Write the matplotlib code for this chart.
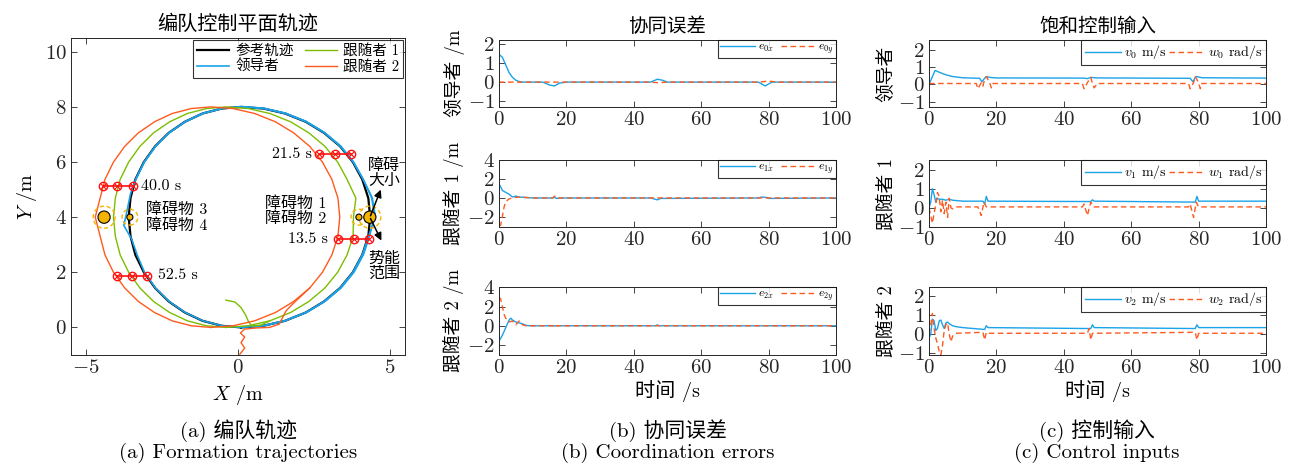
import matplotlib
matplotlib.use("Agg")
import matplotlib.pyplot as plt
from matplotlib.patches import Ellipse
import numpy as np

plt.rcParams['font.family'] = ['cmr10', 'Noto Sans CJK SC']
plt.rcParams['mathtext.fontset'] = 'cm'
plt.rcParams['axes.formatter.use_mathtext'] = True
plt.rcParams['axes.unicode_minus'] = True

# ---------------- (a) trajectories ----------------
ref_x = [0.10, 0.84, 1.55, 2.23, 2.83, 3.36, 3.78, 4.09, 4.29, 4.35, 4.29, 4.09, 3.78,
         3.36, 2.83, 2.23, 1.55, 0.84, 0.10, -0.54, -1.17, -1.75, -2.28, -2.73, -3.10,
         -3.38, -3.54, -3.60, -3.54, -3.38, -3.10, -2.73, -2.28, -1.75, -1.17, -0.54, 0.10]
ref_y = [0.00, 0.06, 0.24, 0.54, 0.94, 1.43, 2.00, 2.63, 3.31, 4.00, 4.69, 5.37, 6.00,
         6.57, 7.06, 7.46, 7.76, 7.94, 8.00, 7.94, 7.76, 7.46, 7.06, 6.57, 6.00,
         5.37, 4.69, 4.00, 3.31, 2.63, 2.00, 1.43, 0.94, 0.54, 0.24, 0.06, 0.00]

lead_x = [0.10, 0.84, 1.55, 2.23, 2.83, 3.36, 3.78, 4.09, 4.30, 4.52, 4.42, 4.12, 3.79,
          3.37, 2.84, 2.24, 1.56, 0.85, 0.12, -0.53, -1.16, -1.74, -2.27, -2.72, -3.09,
          -3.37, -3.54, -3.66, -3.76, -3.50, -3.32, -3.08, -2.72, -2.27, -1.74, -1.16, -0.53, 0.10]
lead_y = [0.00, 0.06, 0.24, 0.54, 0.94, 1.43, 2.00, 2.63, 3.31, 4.02, 4.70, 5.37, 6.00,
          6.57, 7.06, 7.46, 7.76, 7.94, 8.00, 7.94, 7.76, 7.46, 7.06, 6.57, 6.00,
          5.37, 4.85, 4.20, 3.70, 3.20, 2.63, 2.00, 1.43, 0.94, 0.54, 0.24, 0.06, 0.00]
lead2_x = [0.12, 0.86, 1.57, 2.26, 2.87, 3.40, 3.82, 4.13, 4.33, 4.50, 4.40, 4.12, 3.80,
           3.38, 2.85, 2.25, 1.57, 0.86, 0.12, -0.52, -1.15, -1.73, -2.26, -2.71, -3.08, -3.36]
lead2_y = [0.02, 0.07, 0.25, 0.55, 0.95, 1.44, 2.01, 2.64, 3.32, 4.05, 4.70, 5.38, 6.01,
           6.58, 7.07, 7.47, 7.77, 7.95, 8.01, 7.95, 7.77, 7.47, 7.07, 6.58, 6.01, 5.38]

f1_init_x = [-0.40, -0.10, 0.10, 0.25, 0.35, 0.45, 0.75, 1.05]
f1_init_y = [0.99, 0.92, 0.72, 0.45, 0.20, 0.05, 0.08, 0.24]
f1_x = [-0.40, 0.34, 1.05, 1.73, 2.33, 2.86, 3.28, 3.59, 3.79, 3.80, 3.88, 3.59, 3.28,
        2.86, 2.33, 1.73, 1.05, 0.34, -0.40, -1.04, -1.67, -2.25, -2.78, -3.23, -3.60,
        -3.88, -4.04, -4.10, -4.04, -3.88, -3.60, -3.23, -2.78, -2.25, -1.67, -1.04, -0.40]
f1_y = ref_y

f2_init_x = [0.06, 0.22, 0.10, 0.22, 0.08, 0.22, 0.60, 1.04, 1.36, 1.58, 1.80, 2.36]
f2_init_y = [-0.97, -0.75, -0.55, -0.35, -0.20, -0.06, -0.02, 0.00, 0.12, 0.60, 0.85, 1.43]
f2_x = [-0.90, -0.16, 0.55, 1.23, 1.83, 2.36, 2.78, 3.09, 3.29, 3.35, 3.29, 3.09, 2.78,
        2.36, 1.83, 1.23, 0.55, -0.16, -0.90, -1.54, -2.17, -2.75, -3.28, -3.73, -4.10,
        -4.38, -4.54, -4.70, -4.54, -4.38, -4.10, -3.73, -3.28, -2.75, -2.17, -1.54, -0.90]
f2_y = ref_y

snap_labels = ['13.5 s', '21.5 s', '40.0 s', '52.5 s']
snap_y = [3.20, 6.30, 5.13, 1.88]
snap_x = [[3.30, 3.82, 4.31], [2.67, 3.18, 3.71], [-4.44, -3.97, -3.47], [-3.99, -3.50, -2.99]]

obs_x = [4.34, 3.98, -4.41, -3.56]
obs_y = [4.0, 4.0, 4.0, 4.0]
obs_r = [0.20, 0.10, 0.20, 0.10]
obs_range = [0.36, 0.26, 0.36, 0.26]

# ---------------- (b) coordination errors ----------------
t_e0 = [0, 1, 2, 3, 4, 5, 6, 7, 13, 15, 16.5, 18, 20, 45, 47, 48.5, 50, 77, 79, 80, 81, 100]
e0x = [1.45, 1.3, 0.9, 0.5, 0.25, 0.1, 0.03, 0, 0, -0.15, -0.2, -0.05, 0, 0, 0.15, 0.1, 0, 0, -0.2, -0.1, 0, 0]
t_e0y = [0, 45, 47, 50, 77, 80, 83, 100]
e0y = [0, 0, -0.03, 0, 0, 0.05, 0, 0]

t_e1 = [0, 0.5, 1, 2, 3, 4, 5, 6, 8, 10, 16, 16.5, 17, 18, 45, 46, 47, 48, 77, 78, 79.5, 80, 100]
e1x = [1.5, 1.2, 0.8, 0.6, 0.4, 0.1, 0.2, 0.1, 0.05, 0, 0, 0.1, -0.05, 0, 0, -0.1, -0.2, -0.05, 0, 0.1, 0.05, -0.05, 0]
t_e1y = [0, 0.5, 1, 1.5, 2, 3, 4, 6, 8, 10, 16, 16.5, 17, 100]
e1y = [-3.0, -2.9, -2.0, -1.0, -0.4, -0.1, 0, 0.1, 0.05, 0, 0, 0.2, 0, 0]

t_e2 = [0, 1, 2, 3, 3.5, 4, 5, 6, 7, 8, 9, 46.5, 47, 47.5, 100]
e2x = [-1.6, -1.0, -0.2, 0.6, 0.8, 0.6, 0.4, 0.3, 0.2, 0.05, 0, 0, 0.1, 0, 0]
t_e2y = [0, 0.5, 1, 1.5, 2, 2.5, 3, 4, 5, 6, 7, 8, 16, 16.5, 17, 100]
e2y = [3.0, 2.8, 2.0, 1.2, 0.8, 0.6, 0.4, 0.5, 0.1, 0.5, 0.1, 0, 0, -0.2, 0, 0]

# ---------------- (c) saturated control inputs ----------------
t_v0 = [0, 1.8, 3, 5, 7, 10, 13, 15, 15.7, 16.5, 17, 18, 20, 46, 47, 48, 50, 77.5, 78.3, 79, 79.5, 81, 100]
v0 = [0, 0.8, 0.7, 0.55, 0.45, 0.38, 0.36, 0.35, 0.15, 0.35, 0.45, 0.4, 0.37, 0.36, 0.33, 0.4, 0.37, 0.35, 0.15, 0.4, 0.45, 0.38, 0.36]
t_w0 = [0, 14, 14.5, 15.5, 16, 16.5, 17, 18, 18.5, 19, 45.5, 46, 47, 48, 48.5, 49, 50, 77, 77.5, 78.5, 79, 80, 80.5, 81, 100]
w0 = [0.05, 0.05, -0.25, 0.1, -0.1, 0.3, 0.45, 0.1, -0.2, 0.05, 0.05, -0.25, 0.1, 0.4, 0.05, -0.2, 0.05, 0.05, -0.25, 0.1, 0.45, 0.1, -0.25, 0.05, 0.05]

t_v1 = [0, 0.5, 1, 1.5, 2, 2.5, 3, 4, 5, 6, 7, 10, 16, 16.5, 17, 17.5, 48, 48.5, 49, 79, 79.5, 80, 100]
v1 = [0, 0.3, 1.0, 0.7, 0.3, 0.5, 0.45, 0.45, 0.4, 0.45, 0.4, 0.35, 0.35, 0.2, 0.6, 0.35, 0.33, 0.42, 0.35, 0.3, 0.6, 0.35, 0.35]
t_w1 = [0, 0.5, 1, 1.5, 2, 2.5, 3, 3.5, 4, 4.5, 5, 5.5, 6, 6.5, 7, 8, 14.5, 15.5, 16.3, 17, 45.5, 46, 47, 48, 49, 77, 77.5, 78.5, 79.3, 80, 100]
w1 = [0, -0.4, -0.8, -0.3, 0.2, 0.8, 0.6, -0.2, 0.4, -0.3, 0.3, -0.5, 0.5, 0.0, -0.05, 0.05, 0.05, -0.4, 0.3, 0.05, 0.05, 0.2, -0.4, 0.3, 0.05, 0.05, 0.2, -0.5, 0.3, 0.05, 0.05]

t_v2 = [0, 0.5, 1, 1.5, 2, 2.5, 3, 3.5, 4, 4.5, 5, 5.5, 6, 7, 8, 10, 16.5, 17, 17.5, 48, 48.5, 49, 79, 79.5, 80, 100]
v2 = [-0.2, 0.0, 0.8, 0.7, 0.2, 0.3, 0.7, 0.75, 0.5, 0.3, 0.6, 0.65, 0.55, 0.45, 0.4, 0.35, 0.25, 0.45, 0.35, 0.3, 0.5, 0.35, 0.3, 0.5, 0.35, 0.35]
t_w2 = [0, 0.5, 1, 1.5, 2, 2.5, 3, 3.5, 4, 4.5, 5, 5.5, 6, 6.5, 7, 8, 16, 16.5, 17, 17.5, 47, 47.5, 48, 48.5, 79, 79.5, 80, 100]
w2 = [0.0, 0.5, 1.1, 0.3, -0.2, -0.5, -0.9, -1.1, -0.6, 0.2, 0.5, 0.6, 0.0, -0.4, -0.1, 0.05, 0.1, -0.3, 0.1, 0.05, 0.05, 0.3, -0.3, 0.05, 0.1, -0.3, 0.05, 0.05]

BLUE = '#1AA3E8'
GREEN = '#7DBD00'
ORANGE = '#FF5A1E'
RED = '#FF1010'
GOLD = '#F5B400'
SPINE = '#262626'


def style(ax):
    ax.tick_params(direction='in', top=True, right=True, length=4, width=0.6,
                   labelsize=15, colors=SPINE, pad=3)
    for s in ax.spines.values():
        s.set_linewidth(0.7)
        s.set_color(SPINE)


fig = plt.figure(figsize=(12.95, 4.65), dpi=100)

# ---- (a) ----
ax = fig.add_axes([0.0548, 0.2366, 0.258, 0.6817])
ax.plot(ref_x, ref_y, color='k', lw=1.6, label='参考轨迹')
ax.plot(lead_x, lead_y, color=BLUE, lw=1.2, label='领导者')
ax.plot(lead2_x, lead2_y, color=BLUE, lw=1.2)
ax.plot(f1_init_x, f1_init_y, color=GREEN, lw=1.0)
ax.plot(f1_x, f1_y, color=GREEN, lw=1.0, label='跟随者 1')
ax.plot(f2_init_x, f2_init_y, color=ORANGE, lw=1.0)
ax.plot(f2_x, f2_y, color=ORANGE, lw=1.0, label='跟随者 2')

for xs, yv in zip(snap_x, snap_y):
    ax.plot(xs, [yv] * 3, color=RED, lw=1.2, marker='o', ms=6, mfc='none', mec=RED, mew=1.0)
    ax.plot(xs, [yv] * 3, ls='none', marker='x', ms=4, mec=RED, mew=0.8)
ax.text(2.42, snap_y[1], snap_labels[1], ha='right', va='center', fontsize=11.5)
ax.text(2.95, snap_y[0], snap_labels[0], ha='right', va='center', fontsize=11.5)
ax.text(-3.18, snap_y[2], snap_labels[2], ha='left', va='center', fontsize=11.5)
ax.text(-2.65, snap_y[3], snap_labels[3], ha='left', va='center', fontsize=11.5)

sx, sy = 30.6, 27.5
for ox, oy, r, rr in zip(obs_x, obs_y, obs_r, obs_range):
    ax.add_patch(Ellipse((ox, oy), 2 * rr, 2 * rr * sx / sy, fill=False, ec=GOLD, ls=(0, (3, 2)), lw=1.0, zorder=4))
    ax.add_patch(Ellipse((ox, oy), 2 * r, 2 * r * sx / sy, fc=GOLD, ec='k', lw=0.8, zorder=5))

ax.text(-3.02, 3.98, '障碍物 3\n障碍物 4', ha='left', va='center', fontsize=11.5, linespacing=1.05)
ax.text(2.90, 4.22, '障碍物 1\n障碍物 2', ha='right', va='center', fontsize=11.5, linespacing=1.05)
ax.text(4.80, 5.59, '障碍\n大小', ha='center', va='center', fontsize=11.5, linespacing=1.05)
ax.text(4.80, 2.21, '势能\n范围', ha='center', va='center', fontsize=11.5, linespacing=1.05)
ax.annotate('', xy=(4.70, 5.00), xytext=(4.36, 4.05),
            arrowprops=dict(arrowstyle='-|>', color='k', lw=1.1, mutation_scale=11,
                            shrinkA=0, shrinkB=0), zorder=6)
ax.annotate('', xy=(4.72, 3.15), xytext=(4.36, 3.95),
            arrowprops=dict(arrowstyle='-|>', color='k', lw=1.1, mutation_scale=11,
                            shrinkA=0, shrinkB=0), zorder=6)

ax.set_xlim(-5.5, 5.5)
ax.set_ylim(-1, 10.5)
ax.set_xticks([-5, 0, 5])
ax.set_yticks([0, 2, 4, 6, 8, 10])
ax.set_xlabel('$X$ /m', fontsize=14.5, labelpad=4)
ax.set_ylabel('$Y$ /m', fontsize=14.5, labelpad=4)
ax.set_title('编队控制平面轨迹', fontsize=14.5, pad=6)
style(ax)
leg = ax.legend(loc='upper right', ncol=2, fontsize=10.5, frameon=True, fancybox=False,
                edgecolor='k', borderaxespad=0.15, handlelength=2.2, columnspacing=0.8,
                handletextpad=0.4, borderpad=0.25, labelspacing=0.15)
leg.get_frame().set_linewidth(0.8)

# ---- (b) and (c) ----
rows_b = [0.7699, 0.5118, 0.2366]
heights = [0.1441, 0.1441, 0.1462]
err_data = [(t_e0, e0x, t_e0y, e0y, '0'), (t_e1, e1x, t_e1y, e1y, '1'), (t_e2, e2x, t_e2y, e2y, '2')]
u_data = [(t_v0, v0, t_w0, w0, '0'), (t_v1, v1, t_w1, w1, '1'), (t_v2, v2, t_w2, w2, '2')]
names = ['领导者', '跟随者 1', '跟随者 2']
err_ylim = [(-1.3, 2.2), (-3.1, 4.05), (-3.05, 4.05)]
err_yticks = [[-1, 0, 1, 2], [-2, 0, 2, 4], [-2, 0, 2, 4]]
u_ylim = [(-1.3, 2.55), (-1.0, 2.5), (-1.1, 2.5)]

for i in range(3):
    axb = fig.add_axes([0.3853, rows_b[i], 0.2602, heights[i]])
    tx, ex, ty, ey, k = err_data[i]
    axb.plot(tx, ex, color=BLUE, lw=1.0, label='$e_{%sx}$' % k)
    axb.plot(ty, ey, color=ORANGE, lw=1.0, ls=(0, (4, 2.5)), label='$e_{%sy}$' % k)
    axb.set_xlim(0, 100)
    axb.set_ylim(*err_ylim[i])
    axb.set_yticks(err_yticks[i])
    axb.set_xticks([0, 20, 40, 60, 80, 100])
    axb.set_ylabel(names[i] + ' /m', fontsize=13.5, labelpad=2)
    style(axb)
    lg = axb.legend(loc='upper right', ncol=2, fontsize=8.5, frameon=True, fancybox=False,
                    edgecolor='k', borderaxespad=0.0, handlelength=3.0, columnspacing=0.6,
                    handletextpad=0.2, borderpad=0.15)
    lg.get_frame().set_linewidth(0.8)
    if i == 0:
        axb.set_title('协同误差', fontsize=14, pad=6)
    if i == 2:
        axb.set_xlabel('时间 /s', fontsize=14.5, labelpad=2)

    axc = fig.add_axes([0.7174, rows_b[i], 0.2602, heights[i]])
    tv, vv, tw, wv, k = u_data[i]
    axc.plot(tv, vv, color=BLUE, lw=1.0, label='$v_{%s}$ m/s' % k)
    axc.plot(tw, wv, color=ORANGE, lw=1.0, ls=(0, (4, 2.5)), label='$w_{%s}$ rad/s' % k)
    axc.set_xlim(0, 100)
    axc.set_ylim(*u_ylim[i])
    axc.set_yticks([-1, 0, 1, 2])
    axc.set_xticks([0, 20, 40, 60, 80, 100])
    axc.set_ylabel(names[i], fontsize=13.5, labelpad=2)
    style(axc)
    lg = axc.legend(loc='upper right', ncol=2, fontsize=10, frameon=True, fancybox=False,
                    edgecolor='k', borderaxespad=0.0, handlelength=2.6, columnspacing=0.2,
                    handletextpad=0.2, borderpad=0.25)
    lg.get_frame().set_linewidth(0.8)
    if i == 0:
        axc.set_title('饱和控制输入', fontsize=14, pad=6)
    if i == 2:
        axc.set_xlabel('时间 /s', fontsize=14.5, labelpad=2)

captions = [('(a) 编队轨迹', '(a) Formation trajectories', 0.184),
            ('(b) 协同误差', '(b) Coordination errors', 0.516),
            ('(c) 控制输入', '(c) Control inputs', 0.847)]
for zh, en, cx in captions:
    fig.text(cx, 0.074, zh, ha='center', va='center', fontsize=15)
    fig.text(cx, 0.027, en, ha='center', va='center', fontsize=15)

fig.savefig('out.png', dpi=100)
